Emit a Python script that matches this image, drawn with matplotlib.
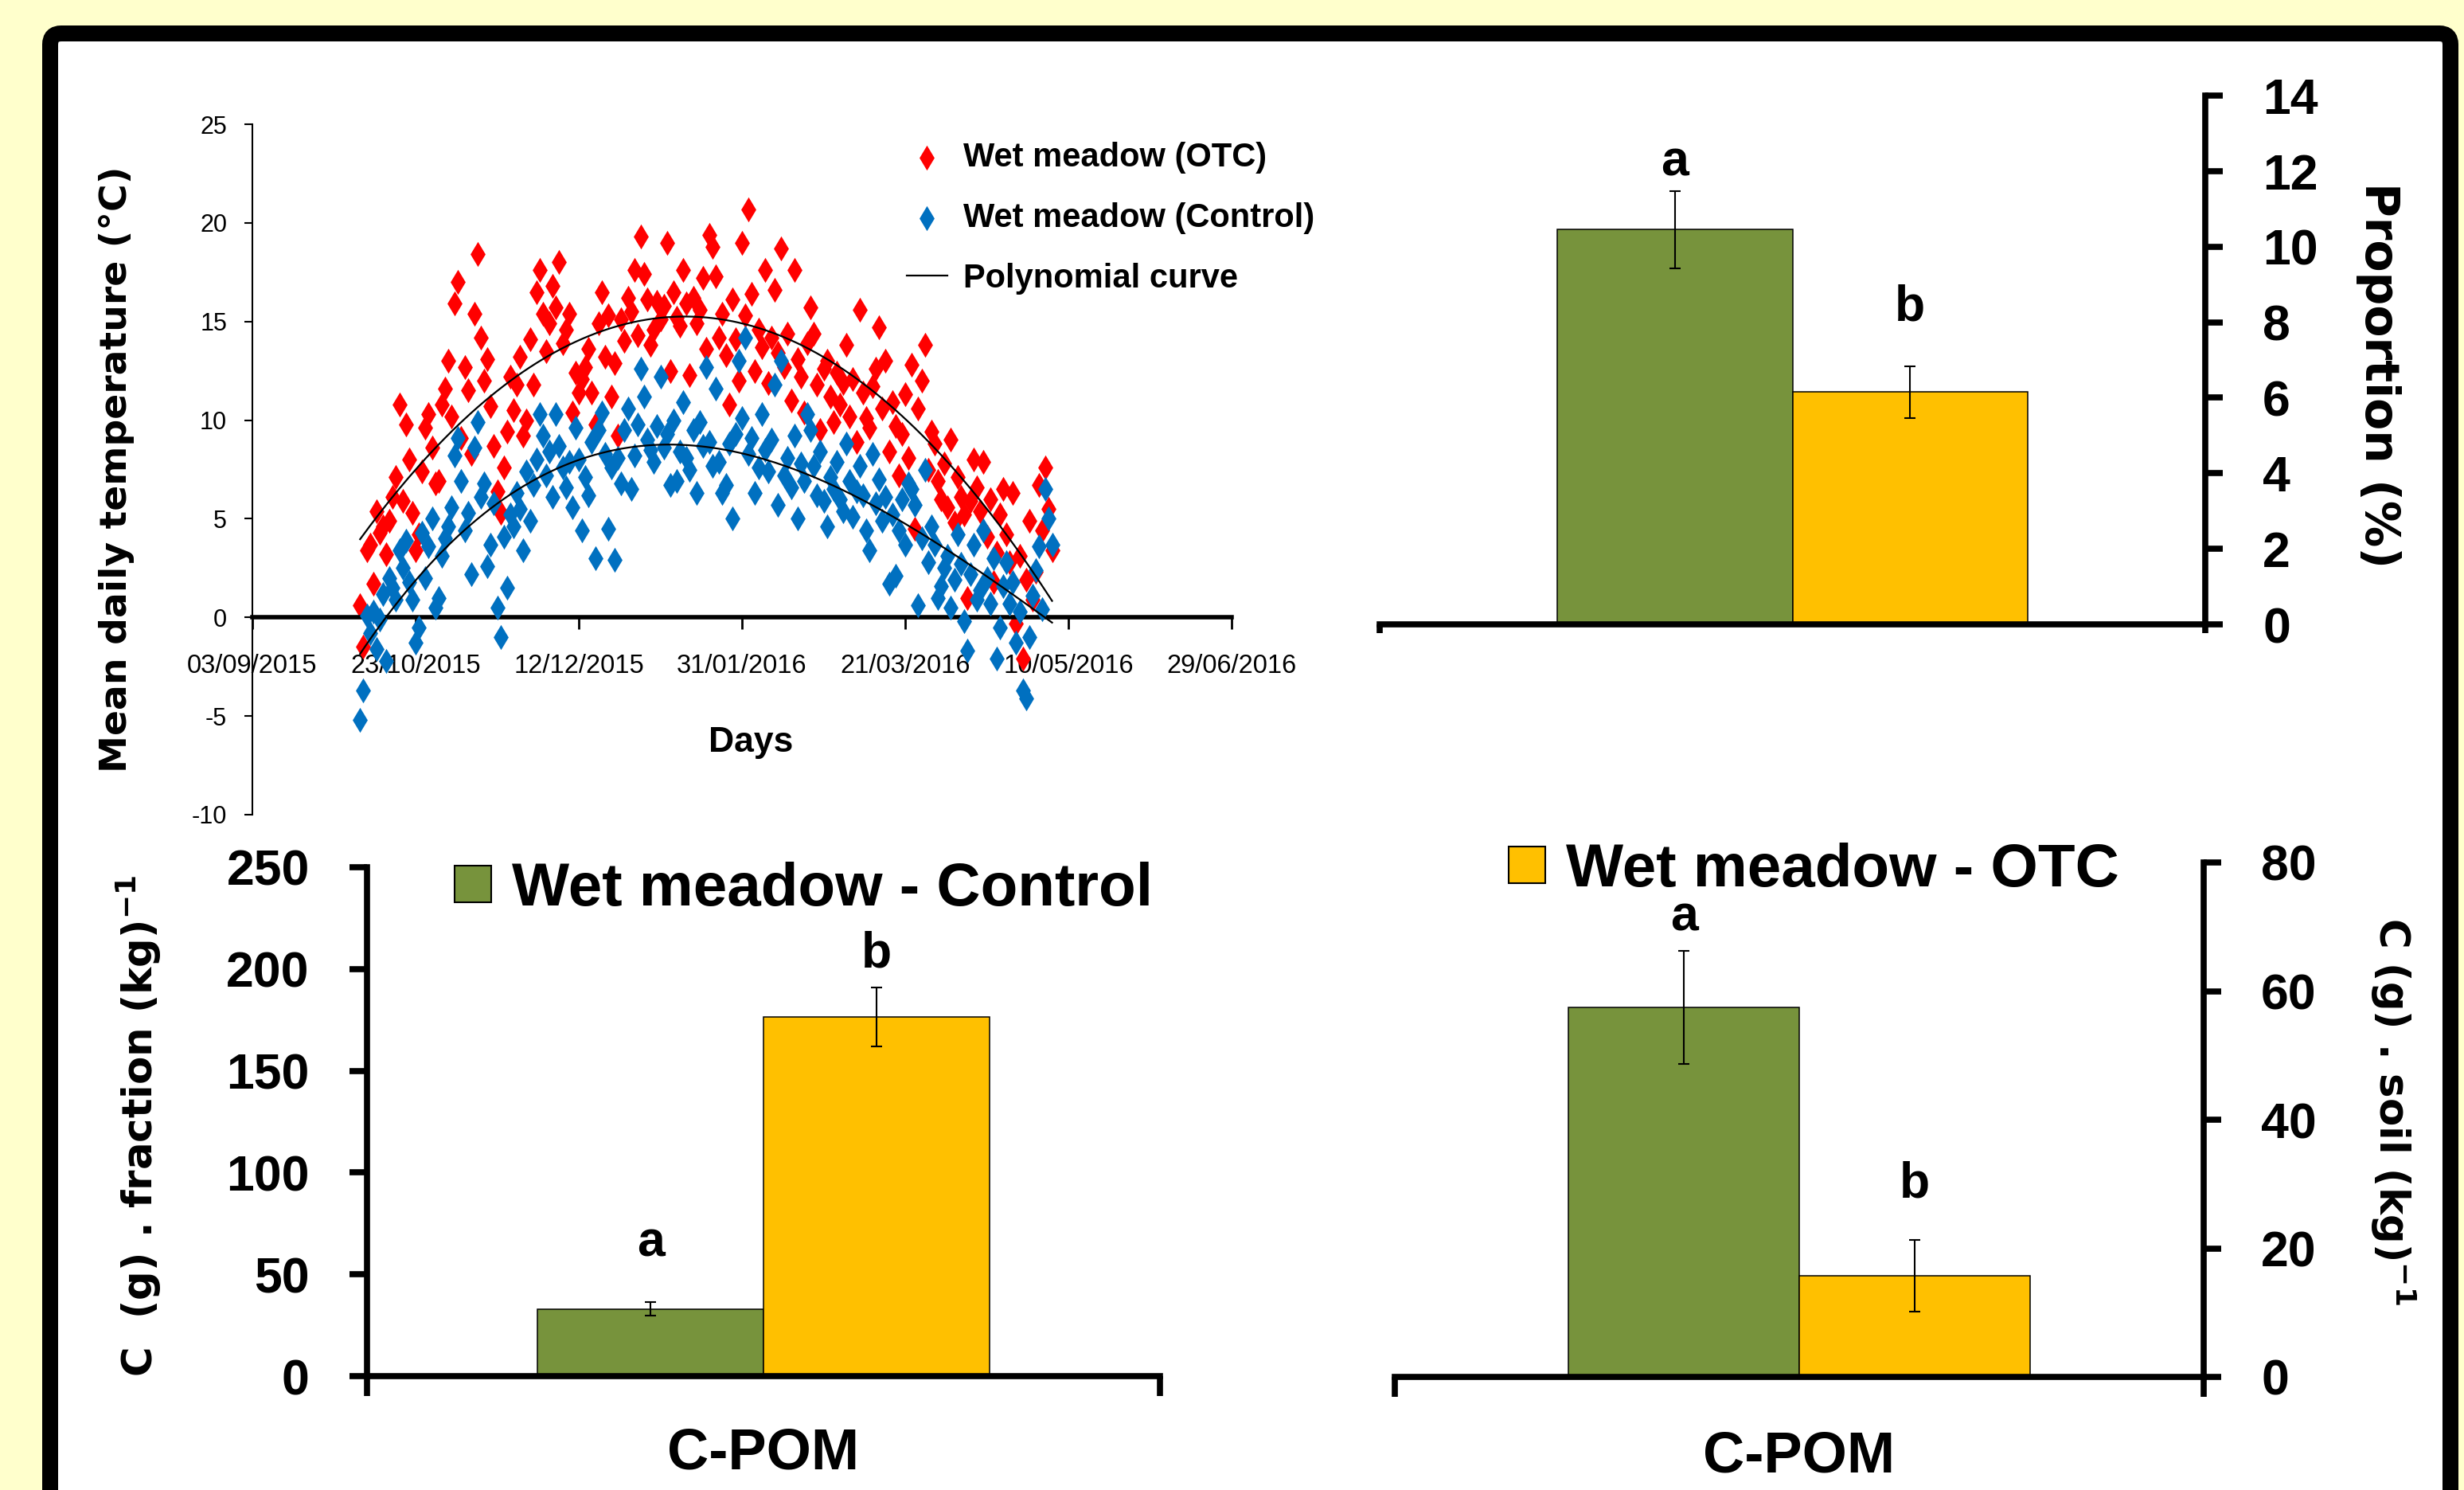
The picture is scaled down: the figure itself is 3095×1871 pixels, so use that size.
import matplotlib
matplotlib.use('Agg')
import matplotlib.pyplot as plt
import matplotlib.dates as mdates
from matplotlib.patches import FancyBboxPatch, Patch
from matplotlib.lines import Line2D
import numpy as np
import pandas as pd

plt.rcParams['axes.unicode_minus'] = False

# daily mean temperature, one value per day starting 06/10/2015
first_day = '2015-10-06'
otc_temp = [
    0.6, -1.5, 3.4, 3.7, 1.7, 5.4, 4.3, 4.6, 3.2, 4.9,
    6.1, 7.1, 10.8, 5.9, 9.8, 8.0, 5.3, 3.4, 4.2, 7.4,
    9.6, 10.3, 8.6, 6.8, 6.9, 10.8, 11.6, 13.0, 10.2, 15.9,
    17.0, 9.1, 12.7, 11.5, 8.3, 15.4, 18.4, 14.2, 12.0, 13.1,
    10.7, 8.7, 6.4, 5.3, 7.6, 9.4, 12.2, 10.5, 11.8, 13.2,
    9.2, 10.0, 14.1, 11.8, 16.5, 17.6, 15.4, 13.5, 14.9, 16.8,
    15.7, 18.0, 13.9, 14.6, 15.4, 10.4, 12.4, 11.4, 12.1, 12.7,
    13.6, 11.4, 9.8, 14.9, 16.5, 13.2, 15.3, 11.2, 12.9, 9.2,
    15.1, 14.0, 16.2, 15.5, 17.6, 14.3, 19.3, 17.4, 16.1, 13.8,
    14.6, 16.0, 15.1, 15.8, 19.0, 12.5, 16.5, 15.2, 14.8, 17.6,
    15.9, 12.3, 16.2, 14.9, 15.6, 17.2, 13.6, 19.4, 18.8, 17.3,
    14.2, 15.4, 13.3, 10.8, 16.1, 14.1, 12.0, 19.0, 15.3, 20.7,
    16.4, 12.5, 14.6, 13.7, 17.6, 11.9, 14.2, 16.6, 13.4, 18.7,
    12.7, 14.4, 11.0, 17.6, 13.1, 12.2, 10.4, 13.9, 15.7, 14.4,
    11.8, 9.5, 12.6, 13.0, 11.2, 9.9, 12.4, 10.8, 11.9, 13.8,
    10.2, 12.1, 8.9, 15.6, 11.4, 10.1, 9.6, 11.7, 12.6, 14.7,
    10.6, 13.0, 8.4, 10.9, 9.7, 7.2, 9.3, 11.3, 8.1, 12.8,
    4.5, 10.6, 12.0, 13.8, 7.5, 9.4, 8.8, 6.9, 6.0, 7.8,
    5.6, 9.0, 4.8, 7.1, 6.1, 5.2, 1.0, 5.9, 8.0, 6.6,
    5.4, 7.9, 4.1, 6.0, 1.8, 3.3, 5.2, 6.5, 4.2, 2.8,
    6.3, -0.3, 3.1, -2.1, 1.9, 4.9, 0.9, 2.3, 6.7, 4.4,
    7.6, 5.5, 3.4,
]
control_temp = [
    -5.2, -3.7, 0.1, -0.8, 0.3, -1.6, -0.1, 1.2, -2.2, 2.0,
    1.5, 0.9, 3.4, 2.5, 3.9, 1.8, 0.9, -1.3, -0.5, 4.3,
    2.0, 3.6, 5.0, 0.5, 1.0, 3.1, 4.0, 4.6, 5.6, 8.2,
    9.1, 6.9, 4.4, 5.3, 2.2, 8.6, 9.9, 6.1, 6.8, 2.6,
    3.7, 5.8, 0.5, -1.0, 4.1, 1.5, 5.2, 4.6, 6.3, 5.5,
    3.4, 7.4, 4.9, 6.7, 8.0, 10.3, 9.2, 7.2, 8.4, 6.1,
    10.3, 8.7, 7.6, 6.6, 7.9, 5.6, 9.6, 8.0, 4.4, 7.1,
    6.2, 8.9, 3.0, 9.5, 10.4, 8.3, 4.5, 7.6, 2.9, 8.1,
    6.8, 9.5, 10.6, 6.5, 8.2, 9.8, 12.6, 11.2, 9.0, 8.5,
    7.9, 9.7, 12.2, 8.6, 9.3, 6.7, 10.0, 6.9, 8.4, 10.9,
    8.1, 7.5, 9.5, 6.3, 9.9, 8.7, 12.7, 8.9, 7.7, 11.6,
    7.9, 6.3, 6.7, 8.8, 5.0, 9.3, 13.0, 10.1, 14.2, 8.3,
    9.1, 6.3, 7.6, 10.3, 8.5, 7.4, 9.0, 11.8, 5.7, 13.0,
    7.2, 8.1, 6.6, 9.2, 5.0, 7.8, 6.9, 10.3, 9.5, 7.7,
    6.2, 8.4, 5.9, 4.6, 7.1, 6.5, 7.9, 6.0, 5.4, 8.8,
    6.9, 5.1, 6.4, 7.7, 6.2, 4.4, 3.4, 8.3, 5.8, 7.0,
    4.9, 6.1, 1.7, 5.2, 2.1, 4.4, 6.0, 3.7, 6.8, 6.5,
    5.7, 0.6, 4.0, 7.5, 2.8, 4.6, 3.7, 1.0, 1.6, 2.5,
    3.1, 0.5, 1.9, 4.2, 2.7, -0.2, -1.7, 2.2, 3.7, 0.9,
    1.4, 4.4, 2.0, 0.7, 3.0, -2.1, -0.5, 1.6, 2.8, 0.7,
    1.8, -1.3, 0.3, -3.7, -4.1, -1.0, 1.1, 2.4, 3.6, 0.4,
    6.5, 5.0, 3.7,
]
date_ticks = ['2015-09-03', '2015-10-23', '2015-12-12', '2016-01-31',
              '2016-03-21', '2016-05-10', '2016-06-29']

# bar panels (Control, OTC)
treatments = ['Wet meadow - Control', 'Wet meadow - OTC']
proportion = [10.45, 6.15]
proportion_err = [1.03, 0.69]
cpom_fraction = [32.9, 176.5]
cpom_fraction_err = [3.3, 14.4]
cpom_soil = [57.5, 15.7]
cpom_soil_err = [8.8, 5.6]
letters = ['a', 'b']

GREEN = '#77933C'
GOLD = '#FFC000'
RED = '#FF0000'
BLUE = '#0070C0'
ARIAL = ['Liberation Sans', 'DejaVu Sans']

W, H = 3095, 1871
fig = plt.figure(figsize=(W / 100, H / 100), dpi=100, facecolor='#FFFFCC')


def px_box(x0, y0, x1, y1):
    # pixel box measured from top-left -> figure fraction rect
    return [x0 / W, 1 - y1 / H, (x1 - x0) / W, (y1 - y0) / H]


# black rounded frame with white inside, running off the bottom edge
frame = FancyBboxPatch((63, -60), 3015, H - 42 + 60,
                       boxstyle='round,pad=0,rounding_size=14',
                       transform=None, fc='white', ec='black', lw=14.4,
                       zorder=-1)
fig.add_artist(frame)

# ---------------- temperature scatter ----------------
ax1 = fig.add_axes(px_box(317, 156, 1547, 1023))
ax1.patch.set_alpha(0)
days = pd.date_range(first_day, periods=len(otc_temp))
x = mdates.date2num(days)
sc1 = ax1.scatter(x, otc_temp, marker='d', s=16 ** 2, color=RED, lw=0, zorder=2)
sc2 = ax1.scatter(x, control_temp, marker='d', s=16 ** 2, color=BLUE, lw=0, zorder=3)
# polynomial trend lines (order 2 for OTC, order 3 for control)
for vals, order in ((otc_temp, 2), (control_temp, 3)):
    coef = np.polyfit(x - x[0], vals, order)
    ax1.plot(x, np.polyval(coef, x - x[0]), color='black', lw=1.6, zorder=4)

tick_x = mdates.date2num(pd.to_datetime(date_ticks))
ax1.set_xlim(tick_x[0], tick_x[-1])
ax1.set_ylim(-10, 25)
ax1.set_xticks(tick_x)
ax1.xaxis.set_major_formatter(mdates.DateFormatter('%d/%m/%Y'))
ax1.set_yticks(range(-10, 26, 5))
ax1.spines['top'].set_visible(False)
ax1.spines['right'].set_visible(False)
ax1.spines['bottom'].set_position(('data', 0))
ax1.spines['bottom'].set_linewidth(4)
ax1.spines['left'].set_linewidth(1.5)
ax1.tick_params(axis='x', direction='out', length=11, width=2, labelsize=23.5,
                pad=22, labelfontfamily=ARIAL)
ax1.tick_params(axis='y', direction='out', length=7, width=1.5, labelsize=22,
                pad=16, labelfontfamily=ARIAL)
ax1.set_ylabel('Mean daily temperature (°C)', fontsize=34, fontweight='bold',
               family='DejaVu Sans', va='center')
ax1.yaxis.set_label_coords(-0.139, 0.5)
ax1.set_xlabel('Days', fontsize=32, fontweight='bold', family=ARIAL, va='center')
ax1.xaxis.set_label_coords(0.509, 0.104)

curve = Line2D([], [], color='black', lw=1.6)
ax1.legend([sc1, sc2, curve],
           ['Wet meadow (OTC)', 'Wet meadow (Control)', 'Polynomial curve'],
           loc='upper left', bbox_to_anchor=(1139 / W, 1 - 178 / H),
           bbox_transform=fig.transFigure, frameon=False,
           prop=dict(family=ARIAL, weight='bold', size=30),
           handlelength=1.22, handletextpad=0.48, labelspacing=0.86,
           borderpad=0, borderaxespad=0, scatterpoints=1)


# ---------------- bar panels ----------------
def bar_panel(ax, values, errors, ymax, ystep, side, xtick_len, offsets):
    xs = [-0.1425, 0.1425]
    ax.patch.set_alpha(0)
    ax.bar(xs, values, width=0.285, color=[GREEN, GOLD], edgecolor='black',
           linewidth=1.1, zorder=2)
    ax.errorbar(xs, values, yerr=errors, fmt='none', ecolor='black',
                elinewidth=1.5, capsize=5, capthick=1.5, zorder=3)
    for xi, v, e, lt, off in zip(xs, values, errors, letters, offsets):
        ax.annotate(lt, (xi, v + e), xytext=(0, off), textcoords='offset pixels',
                    ha='center', va='baseline', fontsize=45, fontweight='bold',
                    family=ARIAL)
    ax.set_xlim(-0.5, 0.5)
    ax.set_ylim(0, ymax)
    ax.set_yticks(np.arange(0, ymax + 0.1, ystep))
    ax.set_xticks([-0.5, 0.5])
    ax.set_xticklabels([])
    other = 'left' if side == 'right' else 'right'
    ax.spines['top'].set_visible(False)
    ax.spines[other].set_visible(False)
    ax.spines[side].set_linewidth(5.5)
    ax.spines['bottom'].set_linewidth(5.5)
    if side == 'right':
        ax.yaxis.tick_right()
        ax.yaxis.set_label_position('right')
    ax.tick_params(axis='y', direction='out', length=16, width=5.5, labelsize=45,
                   pad=36, labelfontfamily=ARIAL)
    for lab in ax.get_yticklabels():
        lab.set_fontweight('bold')
    ax.tick_params(axis='x', direction='out', length=xtick_len, width=5.5)


ax2 = fig.add_axes(px_box(1733, 120, 2770, 784))
bar_panel(ax2, proportion, proportion_err, 14, 2, 'right', 8, [19, 57])
ax2.set_ylabel('Proportion (%)', fontsize=42, fontweight='bold',
               family='DejaVu Sans', rotation=-90, va='center', ha='center',
               rotation_mode='anchor')
ax2.yaxis.set_label_coords(1.21, 0.4715)

ax3 = fig.add_axes(px_box(461, 1089, 1457, 1728))
bar_panel(ax3, cpom_fraction, cpom_fraction_err, 250, 50, 'left', 18, [58, 26])
ax3.set_ylabel('C  (g) . fraction (kg)$^{\\mathbf{-1}}$', fontsize=37,
               fontweight='bold', family='DejaVu Sans', va='center', ha='center')
ax3.yaxis.set_label_coords(-0.288, 0.491)
ax3.set_xlabel('C-POM', fontsize=52, fontweight='bold', family=ARIAL, va='center')
ax3.xaxis.set_label_coords(0.5, -0.153)
ax3.legend([Patch(fc=GREEN, ec='black', lw=1.5)], [treatments[0]],
           loc='upper left', bbox_to_anchor=(571 / W, 1 - 1082 / H),
           bbox_transform=fig.transFigure, frameon=False,
           prop=dict(family=ARIAL, weight='bold', size=55),
           handlelength=0.6, handleheight=0.56, handletextpad=0.34,
           borderpad=0, borderaxespad=0)

ax4 = fig.add_axes(px_box(1752, 1083, 2768, 1729))
bar_panel(ax4, cpom_soil, cpom_soil_err, 80, 20, 'right', 18, [25, 54])
ax4.set_ylabel('C (g) . soil (kg)$^{\\mathbf{-1}}$', fontsize=37,
               fontweight='bold', family='DejaVu Sans', rotation=-90,
               va='center', ha='center', rotation_mode='anchor')
ax4.yaxis.set_label_coords(1.234, 0.517)
ax4.set_xlabel('C-POM', fontsize=52, fontweight='bold', family=ARIAL, va='center')
ax4.xaxis.set_label_coords(0.5, -0.156)
ax4.legend([Patch(fc=GOLD, ec='black', lw=1.5)], [treatments[1]],
           loc='upper left', bbox_to_anchor=(1895 / W, 1 - 1058 / H),
           bbox_transform=fig.transFigure, frameon=False,
           prop=dict(family=ARIAL, weight='bold', size=55),
           handlelength=0.6, handleheight=0.56, handletextpad=0.34,
           borderpad=0, borderaxespad=0)

fig.savefig('out.png', dpi=100, facecolor=fig.get_facecolor())
